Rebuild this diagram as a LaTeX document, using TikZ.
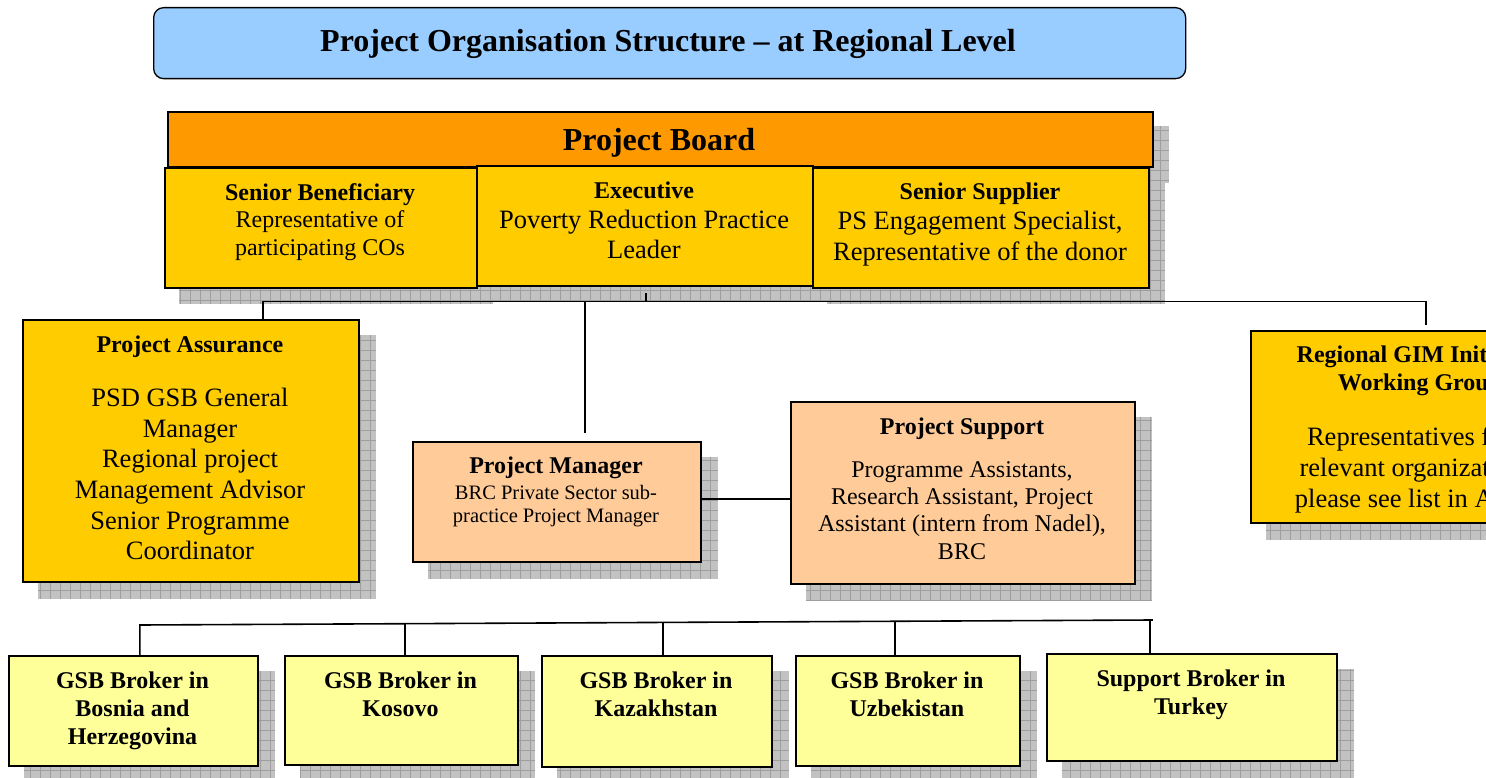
\documentclass[tikz,border=0pt]{standalone}
\usepackage{fontspec}
\setmainfont{Liberation Serif}
\usetikzlibrary{calc,backgrounds}

\definecolor{titleblue}{RGB}{153,204,255}
\definecolor{boardorange}{RGB}{255,153,0}
\definecolor{gold}{RGB}{255,204,0}
\definecolor{peach}{RGB}{255,204,153}
\definecolor{paleyellow}{RGB}{255,255,153}
\definecolor{shadowbase}{RGB}{194,194,194}
\definecolor{shadowline}{RGB}{158,158,158}

\tikzset{
  box/.style={draw=black, line width=1.8pt, inner sep=0pt, anchor=north west},
  txt/.style={inner sep=0pt, align=center, anchor=north},
  conn/.style={draw=black, line width=1.6pt},
}

% text block: name, x, first baseline, size, line skip, weight, lines
\newcommand\boxtext[7]{%
  \node[txt, font=#6\fontsize{#4}{#5}\selectfont] (#1) at (#2,{#3-0.7*#5}) {\strut #7};}

% hatched drop shadow below and right of a box
\newcommand\dropshadow[2][16]{%
  \fill[shadowbase] ($(#2.north west)+(#1,#1)$) rectangle ($(#2.south east)+(#1,#1)$);
  \begin{scope}
    \clip ($(#2.north west)+(#1,#1)$) rectangle ($(#2.south east)+(#1,#1)$);
    \draw[shadowline, line width=0.7pt] ($(#2.north west)+(#1,#1)$) grid[step=10pt] ($(#2.south east)+(#1,#1)$);
  \end{scope}}

\begin{document}
\begin{tikzpicture}[x=1pt, y=-1pt]
\useasboundingbox (0,0) rectangle (1486,778);
\clip (0,0) rectangle (1486,778);

% ---- title ----
\node[box, fill=titleblue, rounded corners=10pt, line width=1.3pt,
      minimum width=1032pt, minimum height=71pt] (title) at (153,7) {};
\boxtext{titleT}{668}{51}{32}{36}{\bfseries}{Project Organisation Structure -- at Regional Level}

% ---- project board ----
\node[box, fill=boardorange, minimum width=985pt, minimum height=55pt] (board) at (167,111) {};
\boxtext{boardT}{659}{150}{32}{36}{\bfseries}{Project Board}

\node[box, fill=gold, minimum width=312pt, minimum height=120pt] (sb) at (164,167) {};
\node[box, fill=gold, minimum width=336pt, minimum height=120pt] (exec) at (476,165) {};
\node[box, fill=gold, minimum width=336pt, minimum height=120pt] (ss) at (812,167) {};

\boxtext{sbH}{320}{200}{24}{27.5}{\bfseries}{Senior Beneficiary}
\boxtext{sbB}{320}{227.5}{24}{27.5}{\mdseries}{Representative of\\participating COs}
\boxtext{exH}{644}{198}{24}{27.5}{\bfseries}{Executive}
\boxtext{exB}{644}{228}{26.5}{30}{\mdseries}{Poverty Reduction Practice\\Leader}
\boxtext{ssH}{980}{199}{24}{27.5}{\bfseries}{Senior Supplier}
\boxtext{ssB}{980}{229.5}{26.5}{31}{\mdseries}{PS Engagement Specialist,\\Representative of the donor}

% ---- middle tier ----
\node[box, fill=gold, minimum width=336pt, minimum height=262pt] (pa) at (22,319) {};
\boxtext{paH}{190}{352}{24}{27.5}{\bfseries}{Project Assurance}
\boxtext{paB}{190}{406.5}{26.5}{30.6}{\mdseries}{PSD GSB General\\Manager\\Regional project\\Management Advisor\\Senior Programme\\Coordinator}

\node[box, fill=peach, minimum width=288pt, minimum height=120pt] (pm) at (412,441) {};
\boxtext{pmH}{556}{473}{24}{27.5}{\bfseries}{Project Manager}
\boxtext{pmB}{556}{499}{20.5}{23}{\mdseries}{BRC Private Sector sub-\\practice Project Manager}

\node[box, fill=peach, minimum width=344pt, minimum height=182pt] (ps) at (790,401) {};
\boxtext{psH}{962}{434}{24}{27.5}{\bfseries}{Project Support}
\boxtext{psB}{962}{477}{24}{27.3}{\mdseries}{Programme Assistants,\\Research Assistant, Project\\Assistant (intern from Nadel),\\BRC}

\node[box, fill=gold, minimum width=340pt, minimum height=192pt] (gim) at (1250,330) {};
\boxtext{gimH}{1420}{362}{24}{28}{\bfseries}{Regional GIM Initiative\\Working Group}
\boxtext{gimB}{1420}{445}{26.5}{31}{\mdseries}{Representatives from\\relevant organizations,\\please see list in Annex}

% ---- brokers ----
\node[box, fill=paleyellow, minimum width=249pt, minimum height=110pt] (b1) at (8,655) {};
\node[box, fill=paleyellow, minimum width=233pt, minimum height=109pt] (b2) at (284,655) {};
\node[box, fill=paleyellow, minimum width=230pt, minimum height=111pt] (b3) at (541,655) {};
\node[box, fill=paleyellow, minimum width=224pt, minimum height=110pt] (b4) at (795,655) {};
\node[box, fill=paleyellow, minimum width=290pt, minimum height=107pt] (b5) at (1046,653) {};
\boxtext{b1T}{132.5}{688}{24}{28}{\bfseries}{GSB Broker in\\Bosnia and\\Herzegovina}
\boxtext{b2T}{400.5}{688}{24}{28}{\bfseries}{GSB Broker in\\Kosovo}
\boxtext{b3T}{656}{688}{24}{28}{\bfseries}{GSB Broker in\\Kazakhstan}
\boxtext{b4T}{907}{688}{24}{28}{\bfseries}{GSB Broker in\\Uzbekistan}
\boxtext{b5T}{1191}{686}{24}{28}{\bfseries}{Support Broker in\\Turkey}

% ---- shadows ----
\begin{pgfonlayer}{background}
  \clip (0,0) rectangle (1486,778);
  \dropshadow[15]{board}
  \dropshadow[15]{sb}
  \dropshadow[15]{exec}
  \dropshadow[15]{ss}
  \dropshadow{pa}
  \dropshadow{pm}
  \dropshadow{ps}
  \dropshadow{gim}
  \dropshadow{b1}
  \dropshadow{b2}
  \dropshadow{b3}
  \dropshadow{b4}
  \dropshadow{b5}
\end{pgfonlayer}

% ---- connectors ----
\coordinate (hub) at (646,301.5);
\coordinate (busL) at (0,625);
\coordinate (busR) at (0,620);
\draw[conn] ([yshift=-6pt]exec.south -| hub) -- (hub);
\draw[conn] ([xshift=72pt]pa.north) |- (hub) -| ([xshift=5pt,yshift=5pt]gim.north);
\draw[conn] ([xshift=28pt,yshift=8pt]pm.north) -- ([xshift=28pt]pm.north |- hub);
\draw[conn] ([yshift=3pt]pm.east) -- ([yshift=3pt]pm.east -| ps.west);

\draw[conn] ([xshift=6.5pt]b1.north) -- ([xshift=6.5pt]b1.north |- busL)
            -- ([xshift=-39pt]b5.north |- busR);
\draw[conn] ([xshift=3.5pt]b2.north) -- ++(0,-31.5);
\draw[conn] ([xshift=6pt]b3.north) -- ++(0,-32.5);
\draw[conn] ([xshift=-13pt]b4.north) -- ++(0,-33.5);
\draw[conn] ([xshift=-42pt]b5.north) -- ([xshift=-42pt]b5.north |- busR);
\end{tikzpicture}
\end{document}
